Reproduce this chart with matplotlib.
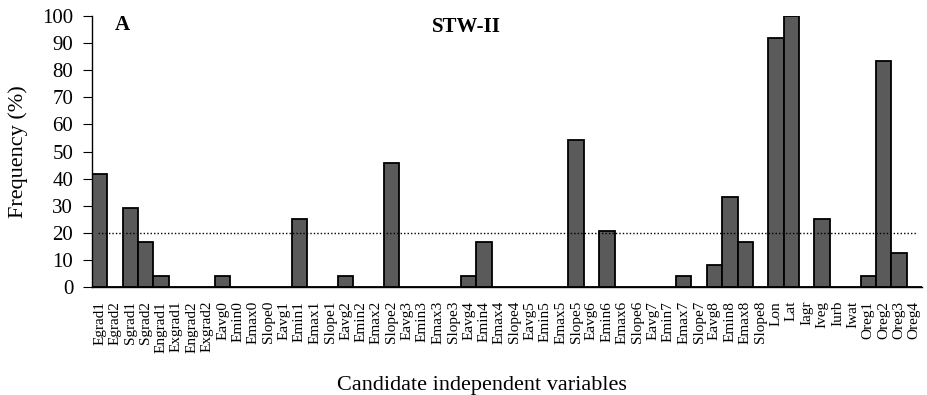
import matplotlib
matplotlib.use("Agg")
import matplotlib.pyplot as plt
import numpy as np

categories = ["Egrad1", "Egrad2", "Sgrad1", "Sgrad2", "Engrad1", "Exgrad1", "Engrad2", "Exgrad2",
              "Eavg0", "Emin0", "Emax0", "Slope0", "Eavg1", "Emin1", "Emax1", "Slope1",
              "Eavg2", "Emin2", "Emax2", "Slope2", "Eavg3", "Emin3", "Emax3", "Slope3",
              "Eavg4", "Emin4", "Emax4", "Slope4", "Eavg5", "Emin5", "Emax5", "Slope5",
              "Eavg6", "Emin6", "Emax6", "Slope6", "Eavg7", "Emin7", "Emax7", "Slope7",
              "Eavg8", "Emin8", "Emax8", "Slope8", "Lon", "Lat", "Iagr", "Iveg", "Iurb", "Iwat",
              "Oreg1", "Oreg2", "Oreg3", "Oreg4"]
frequency = [41.7, 0, 29.2, 16.7, 4.2, 0, 0, 0,
             4.2, 0, 0, 0, 0, 25.0, 0, 0,
             4.2, 0, 0, 45.8, 0, 0, 0, 0,
             4.2, 16.7, 0, 0, 0, 0, 0, 54.2,
             0, 20.8, 0, 0, 0, 0, 4.2, 0,
             8.3, 33.3, 16.7, 0, 91.7, 100.0, 0, 25.0, 0, 0,
             4.2, 83.3, 12.5, 0]
threshold = 20
yticks = list(range(0, 101, 10))

plt.rcParams['font.family'] = ['Liberation Serif', 'DejaVu Serif']

fig = plt.figure(figsize=(9.27, 3.95), dpi=100)
ax = fig.add_axes([0.0992, 0.2734, 0.8954, 0.6861])

x = np.arange(len(categories))
ax.bar(x, frequency, width=1.0, color="#5a5a5a", edgecolor="black", linewidth=1.3, zorder=2)
ax.hlines(threshold, -0.1, len(categories) - 0.9, colors="black", linestyles=(0, (1, 1.5)),
          linewidth=1.0, zorder=3)

ax.set_xlim(-0.5, len(categories) - 0.5)
ax.set_ylim(0, 100)
ax.set_yticks(yticks)
ax.set_xticks(x)
ax.set_xticklabels(categories, rotation=90, fontsize=11)
ax.tick_params(axis='x', length=0, pad=10)
ax.tick_params(axis='y', direction='out', length=6.5, labelsize=15, pad=7)
for s in ["top", "right"]:
    ax.spines[s].set_visible(False)
ax.spines["left"].set_linewidth(1.0)
ax.spines["bottom"].set_linewidth(1.0)

ax.set_ylabel("Frequency (%)", fontsize=16, labelpad=10)
ax.set_xlabel("Candidate independent variables", fontsize=16, labelpad=12)
ax.xaxis.set_label_coords(0.47, -0.33)

ax.text(0.028, 0.967, "A", transform=ax.transAxes, fontsize=15, fontweight="bold", va="center", ha="left")
ax.text(0.451, 0.96, "STW-II", transform=ax.transAxes, fontsize=15, fontweight="bold", va="center", ha="center")

fig.savefig("out.png", dpi=100)
